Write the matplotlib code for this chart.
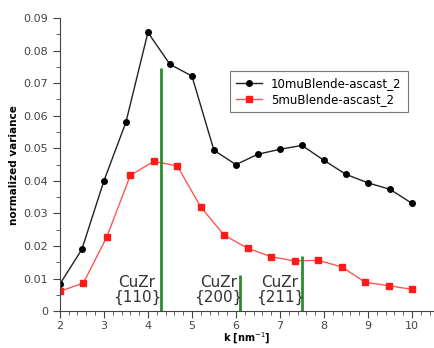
import matplotlib.pyplot as plt
import numpy as np

# data
k_10mu = [2.0, 2.5, 3.0, 3.5, 4.0, 4.5, 5.0, 5.5, 6.0, 6.5, 7.0, 7.5, 8.0, 8.5, 9.0, 9.5, 10.0]
var_10mu = [0.0083, 0.019, 0.040, 0.058, 0.0856, 0.0758, 0.0722, 0.0494, 0.045, 0.0482,
            0.0497, 0.0509, 0.0463, 0.042, 0.0394, 0.0374, 0.0331]

k_5mu = [2.0, 2.533, 3.067, 3.6, 4.133, 4.667, 5.2, 5.733, 6.267, 6.8, 7.333, 7.867,
         8.4, 8.933, 9.467, 10.0]
var_5mu = [0.0061, 0.0086, 0.0228, 0.0417, 0.046, 0.0446, 0.032, 0.0233, 0.0193, 0.0167,
           0.0154, 0.0156, 0.0136, 0.0089, 0.0078, 0.0067]

peak_k = [4.3, 6.1, 7.5]
peak_h = [0.0746, 0.011, 0.0169]
peak_names = ['CuZr\n{110}', 'CuZr\n{200}', 'CuZr\n{211}']
label_x = [3.75, 5.6, 7.0]

plt.rcParams['font.family'] = ['DejaVu Sans']
fig = plt.figure(figsize=(4.34, 3.48), dpi=100)
ax = fig.add_axes([0.138, 0.106, 0.862, 0.842])

ax.plot(k_10mu, var_10mu, '-', color='#222222', lw=1.0, marker='o', ms=4,
        mfc='black', mec='black', label='10muBlende-ascast_2')
ax.plot(k_5mu, var_5mu, '-', color='#ff5555', lw=1.0, marker='s', ms=4.5,
        mfc='#ff1a1a', mec='#ff1a1a', label='5muBlende-ascast_2')

for x, h in zip(peak_k, peak_h):
    ax.vlines(x, 0, h, color='#2e8b2e', lw=2)
for x, name in zip(label_x, peak_names):
    ax.text(x, 0.0018, name, ha='center', va='bottom', fontsize=11,
            multialignment='center', color='#333333', linespacing=1.0)

ax.set_xlim(2, 10.5)
ax.set_ylim(0, 0.09)
ax.set_xticks(range(2, 11))
ax.set_yticks(np.arange(0, 0.091, 0.01))
ax.set_yticklabels(['0'] + ['%.2f' % v for v in np.arange(0.01, 0.091, 0.01)])
ax.set_xticks(np.arange(2, 10.51, 0.2), minor=True)
ax.set_yticks(np.arange(0, 0.091, 0.005), minor=True)
ax.tick_params(axis='both', which='major', labelsize=8, colors='#444444', length=5)
ax.tick_params(axis='x', which='major', pad=2)
ax.tick_params(axis='both', which='minor', colors='#444444', length=3)

for s in ['top', 'right']:
    ax.spines[s].set_visible(False)
for s in ['left', 'bottom']:
    ax.spines[s].set_color('#444444')

ax.set_xlabel('k [nm$^{-1}$]', fontsize=7, fontweight='bold', labelpad=0)
ax.set_ylabel('normalized variance', fontsize=7.5, fontweight='bold', labelpad=3)

leg = ax.legend(loc='upper right', bbox_to_anchor=(0.945, 0.84), fontsize=8.5,
                frameon=True, fancybox=False, edgecolor='#555555',
                handlelength=2.2, borderpad=0.5, labelspacing=0.25)
leg.get_frame().set_linewidth(0.8)

fig.savefig('out.png', dpi=100)
